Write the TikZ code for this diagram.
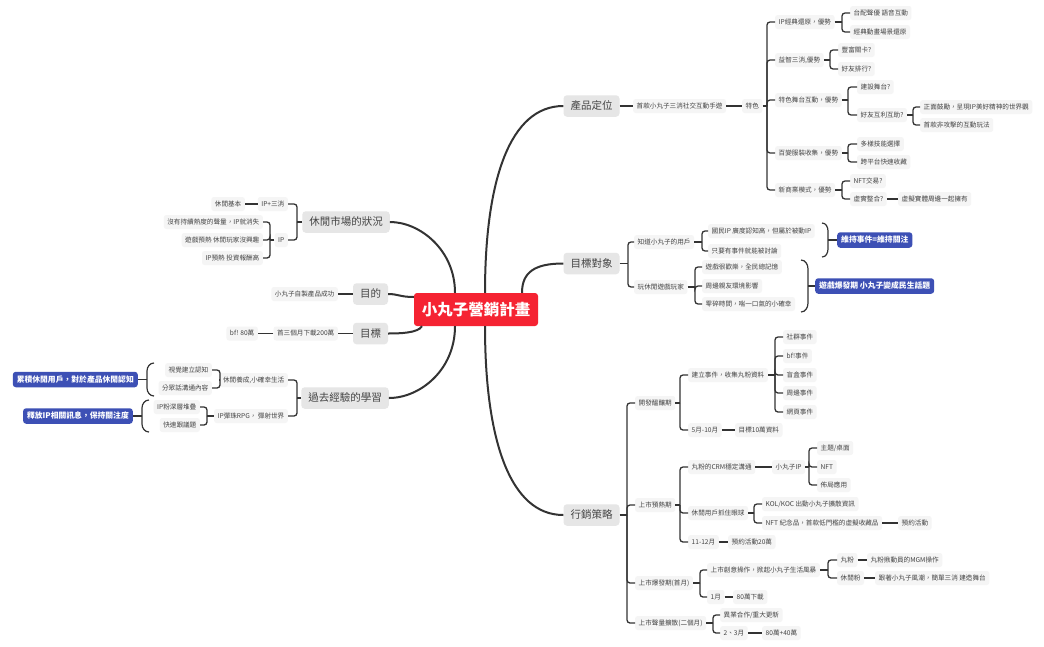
\documentclass[tikz,border=0pt]{standalone}
\usepackage{fontspec}
\setmainfont{Noto Sans CJK TC}
\definecolor{lc}{HTML}{333333}
\definecolor{txt}{HTML}{444444}
\definecolor{nodebg}{HTML}{F5F5F5}
\definecolor{topicbg}{HTML}{E6E6E6}
\definecolor{bluebg}{HTML}{3D50B5}
\definecolor{redbg}{HTML}{F52332}
\newcommand\brR[3]{\draw[conn] (#1.east) -- (#1.east -| #2,0);
  \foreach \ch in {#3}{\draw[conn,rounded corners=3pt] (#1.east -| #2,0) |- (\ch.west);}}
\newcommand\brL[3]{\draw[conn] (#1.west) -- (#1.west -| #2,0);
  \foreach \ch in {#3}{\draw[conn,rounded corners=3pt] (#1.west -| #2,0) |- (\ch.east);}}
\begin{document}
\begin{tikzpicture}[x=1pt,y=1pt,
  sm/.style={fill=nodebg, rounded corners=2.5pt, inner xsep=3.5pt, inner ysep=0pt, minimum height=14pt,
    text height=5.6pt, text depth=1.1pt, font=\fontsize{6.6}{7}\selectfont, text=txt},
  topic/.style={fill=topicbg, rounded corners=3.5pt, inner xsep=7pt, inner ysep=0pt, minimum height=21.5pt,
    text height=8.8pt, text depth=1.6pt, font=\fontsize{10.5}{12}\selectfont, text=txt},
  centre/.style={fill=redbg, rounded corners=3pt, minimum width=124pt, minimum height=33pt,
    font=\fontsize{15.5}{17}\selectfont\bfseries, text=white},
  bluebox/.style={fill=bluebg, rounded corners=3pt, inner xsep=4pt, inner ysep=0pt, minimum height=15.5pt,
    text height=6.6pt, text depth=1.3pt, font=\fontsize{7.8}{9}\selectfont\bfseries, text=white},
  conn/.style={draw=lc, line width=1.3pt},
  mainline/.style={draw=lc, line width=2pt},
  paren/.style={draw=lc, line width=1.2pt}]
\fill[white] (0,0) rectangle (1044,-646);
\useasboundingbox (0,0) rectangle (1044,-646);

% centre and main topics
\node[centre] (c) at (476,-309.5) {小丸子營銷計畫};
\node[topic] (t1) at (591.5,-106) {產品定位};
\node[topic] (t2) at (591.5,-263.5) {目標對象};
\node[topic] (t3) at (591.5,-515) {行銷策略};
\node[topic] (l1) at (346,-222) {休閒市場的狀況};
\node[topic] (l2) at (370.5,-294) {目的};
\node[topic] (l3) at (370.5,-333.5) {目標};
\node[topic] (l4) at (345,-398) {過去經驗的學習};

\draw[mainline] (c.north -| 485,0) .. controls (485,-180) and (510,-106) .. (t1.west);
\draw[mainline] (c.north -| 522,0) .. controls (522,-272) and (535,-263.5) .. (t2.west);
\draw[mainline] (c.south -| 485,0) .. controls (485,-440) and (510,-515) .. (t3.west);
\draw[mainline] (c.north -| 455,0) .. controls (455,-250) and (420,-222) .. (l1.east);
\draw[mainline] (c.west |- 0,-297) .. controls (400,-297) and (398,-294) .. (l2.east);
\draw[mainline] (c.south -| 422,0) .. controls (418,-333) and (400,-333.5) .. (l3.east);
\draw[mainline] (c.south -| 455,0) .. controls (455,-370) and (420,-398) .. (l4.east);

% ---------------- 產品定位
\node[sm,anchor=west] (p1) at (633,-106) {首款小丸子三消社交互動手遊};
\node[sm,anchor=west] (p2) at (742,-106) {特色};
\node[sm,anchor=west] (p3) at (775,-22) {IP經典還原，優勢};
\node[sm,anchor=west] (p4) at (775,-60) {益智三消,優勢};
\node[sm,anchor=west] (p5) at (775,-100) {特色舞台互動，優勢};
\node[sm,anchor=west] (p6) at (775,-153) {百變服裝收集，優勢};
\node[sm,anchor=west] (p7) at (775,-190) {新商業模式，優勢};
\node[sm,anchor=west] (p31) at (850,-13) {台配聲優 語音互動};
\node[sm,anchor=west] (p32) at (850,-32) {經典動畫場景還原};
\node[sm,anchor=west] (p41) at (838,-50) {豐富關卡?};
\node[sm,anchor=west] (p42) at (838,-69) {好友排行?};
\node[sm,anchor=west] (p51) at (857,-87) {建設舞台?};
\node[sm,anchor=west] (p52) at (857,-115) {好友互利互助?};
\node[sm,anchor=west] (p521) at (920,-107) {正面鼓勵，呈現IP美好精神的世界觀};
\node[sm,anchor=west] (p522) at (920,-125) {首款非攻擊的互動玩法};
\node[sm,anchor=west] (p61) at (857,-144) {多樣技能選擇};
\node[sm,anchor=west] (p62) at (857,-162) {跨平台快速收藏};
\node[sm,anchor=west] (p71) at (850,-181) {NFT交易?};
\node[sm,anchor=west] (p72) at (850,-199) {虛實整合?};
\node[sm,anchor=west] (p721) at (898,-199) {虛擬實體周邊一起擁有};

\draw[conn] (t1.east) -- (p1.west);
\draw[conn] (p1.east) -- (p2.west);
\brR{p2}{767}{p3,p4,p5,p6,p7}
\brR{p3}{842}{p31,p32}
\brR{p4}{830}{p41,p42}
\brR{p5}{848}{p51,p52}
\brR{p52}{913}{p521,p522}
\brR{p6}{848}{p61,p62}
\brR{p7}{842}{p71,p72}
\draw[conn] (p72.east) -- (p721.west);

% ---------------- 目標對象
\node[sm,anchor=west] (g1) at (634,-242) {知道小丸子的用戶};
\node[sm,anchor=west] (g2) at (634,-287) {玩休閒遊戲玩家};
\node[sm,anchor=west] (g11) at (708,-231) {國民IP 廣度認知高，但屬於被動IP};
\node[sm,anchor=west] (g12) at (708,-251) {只要有事件就能被討論};
\node[sm,anchor=west] (g21) at (702,-267) {遊戲很歡樂，全民總記憶};
\node[sm,anchor=west] (g22) at (702,-286) {周邊親友環境影響};
\node[sm,anchor=west] (g23) at (702,-304) {零碎時間，喘一口氣的小確幸};
\brR{t2}{628}{g1,g2}
\brR{g1}{702}{g11,g12}
\brR{g2}{695}{g21,g22,g23}
\node[bluebox,anchor=west] (b1) at (837,-240) {維持事件=維持關注};
\node[bluebox,anchor=west] (b2) at (815,-286) {遊戲爆發期 小丸子變成民生話題};
\draw[paren] (822,-223) to[out=0,in=90] (828,-231) -- (828,-249) to[out=-90,in=0] (822,-257);
\coordinate (br1) at (828,-240);
\draw[conn] (br1) -- (b1.west);
\draw[paren] (801,-260) to[out=0,in=90] (808,-269) -- (808,-303) to[out=-90,in=0] (801,-312);
\coordinate (br2) at (808,-286);
\draw[conn] (br2) -- (b2.west);

% ---------------- 左側
\node[sm,anchor=east] (h1) at (288,-204) {IP+三消};
\node[sm,anchor=east] (h2) at (288,-240) {IP};
\node[sm,anchor=east] (h11) at (245,-204) {休閒基本};
\node[sm,anchor=east] (h21) at (263,-222) {沒有持續熱度的聲量，IP就消失};
\node[sm,anchor=east] (h22) at (263,-240) {遊戲預熱 休閒玩家沒興趣};
\node[sm,anchor=east] (h23) at (263,-258) {IP預熱 投資報酬高};
\brL{l1}{297}{h1,h2}
\draw[conn] (h1.west) -- (h11.east);
\brL{h2}{270}{h21,h22,h23}

\node[sm,anchor=east] (m1) at (338,-294) {小丸子自製產品成功};
\draw[conn] (l2.west) -- (m1.east);
\node[sm,anchor=east] (n1) at (338,-333.5) {首三個月下載200萬};
\node[sm,anchor=east] (n2) at (258,-333.5) {bf! 80萬};
\draw[conn] (l3.west) -- (n1.east);
\draw[conn] (n1.west) -- (n2.east);

\node[sm,anchor=east] (k1) at (288,-380) {休閒養成,小確幸生活};
\node[sm,anchor=east] (k2) at (288,-416) {IP彈珠RPG， 彈射世界};
\node[sm,anchor=east] (k11) at (212,-370) {視覺建立認知};
\node[sm,anchor=east] (k12) at (212,-388) {分眾話溝通內容};
\node[sm,anchor=east] (k21) at (200,-407) {IP粉深層堆疊};
\node[sm,anchor=east] (k22) at (200,-425) {快速跟議題};
\brL{l4}{297}{k1,k2}
\brL{k1}{220}{k11,k12}
\brL{k2}{207}{k21,k22}
\node[bluebox,anchor=east] (bl1) at (138,-379.5) {累積休閒用戶，對於產品休閒認知};
\node[bluebox,anchor=east] (bl2) at (133,-416) {釋放IP相關訊息，保持關注度};
\draw[paren] (154,-363) to[out=180,in=90] (147,-371) -- (147,-388) to[out=-90,in=180] (154,-396);
\coordinate (br3) at (147,-379.5);
\draw[conn] (br3) -- (bl1.east);
\draw[paren] (149,-400) to[out=180,in=90] (142,-408) -- (142,-424) to[out=-90,in=180] (149,-432);
\coordinate (br4) at (142,-416);
\draw[conn] (br4) -- (bl2.east);

% ---------------- 行銷策略
\node[sm,anchor=west] (s1) at (635,-403) {開發醞釀期};
\node[sm,anchor=west] (s2) at (635,-505) {上市預熱期};
\node[sm,anchor=west] (s3) at (635,-583) {上市爆發期(首月)};
\node[sm,anchor=west] (s4) at (635,-623) {上市聲量擴散(二個月)};
\brR{t3}{627}{s1,s2,s3,s4}

\node[sm,anchor=west] (s11) at (688,-375) {建立事件，收集丸粉資料};
\node[sm,anchor=west] (s12) at (688,-430) {5月-10月};
\node[sm,anchor=west] (s121) at (735,-430) {目標10萬資料};
\brR{s1}{680}{s11,s12}
\draw[conn] (s12.east) -- (s121.west);
\node[sm,anchor=west] (e1) at (783,-337) {社群事件};
\node[sm,anchor=west] (e2) at (783,-356) {bf!事件};
\node[sm,anchor=west] (e3) at (783,-375) {盲盒事件};
\node[sm,anchor=west] (e4) at (783,-393) {周邊事件};
\node[sm,anchor=west] (e5) at (783,-412) {網頁事件};
\brR{s11}{775}{e1,e2,e3,e4,e5}

\node[sm,anchor=west] (s21) at (688,-467) {丸粉的CRM穩定溝通};
\node[sm,anchor=west] (s22) at (688,-513) {休閒用戶抓住眼球};
\node[sm,anchor=west] (s23) at (688,-542) {11-12月};
\brR{s2}{680}{s21,s22,s23}
\node[sm,anchor=west] (s211) at (772,-467) {小丸子IP};
\draw[conn] (s21.east) -- (s211.west);
\node[sm,anchor=west] (u1) at (817,-448) {主題/桌面};
\node[sm,anchor=west] (u2) at (817,-467) {NFT};
\node[sm,anchor=west] (u3) at (817,-485) {佈局應用};
\brR{s211}{809}{u1,u2,u3}
\node[sm,anchor=west] (v1) at (762,-504) {KOL/KOC 出動小丸子擴散資訊};
\node[sm,anchor=west] (v2) at (762,-523) {NFT 紀念品，首款低門檻的虛擬收藏品};
\brR{s22}{754}{v1,v2}
\node[sm,anchor=west] (v21) at (898,-523) {預約活動};
\draw[conn] (v2.east) -- (v21.west);
\node[sm,anchor=west] (s231) at (728,-542) {預約活動20萬};
\draw[conn] (s23.east) -- (s231.west);

\node[sm,anchor=west] (w1) at (707,-570) {上市創意操作，掀起小丸子生活風暴};
\node[sm,anchor=west] (w2) at (707,-597) {1月};
\brR{s3}{700}{w1,w2}
\node[sm,anchor=west] (w11) at (837,-560) {丸粉};
\node[sm,anchor=west] (w12) at (837,-578) {休閒粉};
\brR{w1}{828}{w11,w12}
\node[sm,anchor=west] (w111) at (867,-560) {丸粉揪動員的MGM操作};
\node[sm,anchor=west] (w121) at (875,-578) {跟著小丸子風潮，簡單三消 建造舞台};
\draw[conn] (w11.east) -- (w111.west);
\draw[conn] (w12.east) -- (w121.west);
\node[sm,anchor=west] (w21) at (733,-597) {80萬下載};
\draw[conn] (w2.east) -- (w21.west);

\node[sm,anchor=west] (x1) at (720,-615) {異業合作/重大更新};
\node[sm,anchor=west] (x2) at (720,-633) {2、3月};
\brR{s4}{713}{x1,x2}
\node[sm,anchor=west] (x21) at (762,-633) {80萬+40萬};
\draw[conn] (x2.east) -- (x21.west);
\end{tikzpicture}
\end{document}
